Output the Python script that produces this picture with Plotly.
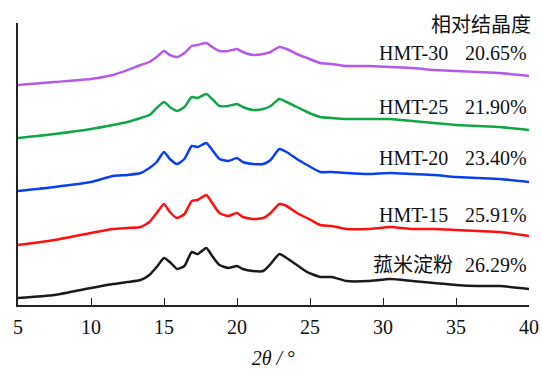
import plotly.graph_objects as go

two_theta = [5, 7.5, 10, 11.5, 12.5, 13.4, 14.0, 14.5, 15.0, 15.4,
             15.9, 16.4, 16.9, 17.3, 17.9, 18.3, 18.8, 19.4, 20.0, 20.4,
             21.1, 21.8, 22.3, 22.9, 23.4, 24.1, 24.8, 25.7, 26.5, 27.5,
             29, 30.5, 32, 33.5, 35, 36.5, 38, 40]

native = [7, 10, 17, 21, 23, 25, 30, 38, 47, 43,
          36, 39, 53, 51, 57, 49, 40, 37, 39, 36,
          34, 34, 41, 51, 47, 40, 33, 28, 28, 24,
          24, 26, 24, 22, 20, 19, 19, 16]
hmt15 = [60, 65, 72, 76, 77, 78, 83, 92, 101, 93,
         87, 91, 104, 105, 110, 102, 92, 89, 92, 88,
         86, 87, 92, 101, 99, 92, 87, 80, 79, 76,
         76, 78, 76, 76, 75, 74, 73, 69]
hmt20 = [114, 118, 123, 129, 130, 132, 137, 143, 153, 146,
         141, 146, 159, 158, 162, 155, 146, 144, 147, 143,
         141, 141, 145, 156, 153, 146, 140, 133, 133, 132,
         131, 132, 131, 130, 128, 127, 126, 123]
hmt25 = [167, 171, 176, 180, 183, 187, 190, 197, 203, 198,
         194, 198, 208, 207, 211, 206, 199, 199, 201, 198,
         195, 196, 199, 206, 203, 198, 193, 188, 187, 186,
         186, 186, 184, 182, 180, 179, 178, 175]
hmt30 = [220, 223, 226, 230, 235, 240, 243, 248, 254, 250,
         248, 252, 259, 260, 262, 258, 254, 254, 256, 253,
         250, 251, 253, 258, 256, 251, 247, 242, 241, 239,
         239, 238, 237, 235, 234, 233, 232, 229]

series_names = ["菰米淀粉", "HMT-15", "HMT-20", "HMT-25", "HMT-30"]
crystallinity = ["26.29%", "25.91%", "23.40%", "21.90%", "20.65%"]
series_values = [native, hmt15, hmt20, hmt25, hmt30]
colors = ["#1a1a1a", "#ff1010", "#0a3ff0", "#11a645", "#b55ae8"]
label_y = [40, 90, 147, 198, 252]

x_ticks = [5, 10, 15, 20, 25, 30, 35, 40]

serif = "Liberation Serif, Tinos, Times New Roman, DejaVu Serif, Noto Sans CJK SC, serif"

fig = go.Figure()
for name, vals, col in zip(series_names, series_values, colors):
    fig.add_trace(go.Scatter(x=two_theta, y=vals, mode="lines", name=name,
                             line=dict(color=col, width=2.5, shape="spline", smoothing=0.5),
                             showlegend=False))

annotations = []
for name, pct, ly in zip(series_names, crystallinity, label_y):
    annotations.append(dict(text=name, xref="paper", yref="y", x=0.855 if name == "菰米淀粉" else 0.846,
                            y=ly, xanchor="right", yanchor="middle", showarrow=False,
                            font=dict(family=serif, size=20, color="#111")))
    annotations.append(dict(text=pct, xref="paper", yref="y", x=1.0, y=ly,
                            xanchor="right", yanchor="middle", showarrow=False,
                            font=dict(family=serif, size=20, color="#111")))
annotations.append(dict(text="相对结晶度", xref="paper", yref="y", x=1.008, y=280,
                        xanchor="right", yanchor="middle", showarrow=False,
                        font=dict(family=serif, size=20, color="#111")))

fig.update_layout(
    width=542, height=369,
    margin=dict(l=18, r=13, t=23, b=64),
    paper_bgcolor="white", plot_bgcolor="white",
    annotations=annotations,
    xaxis=dict(range=[5, 40], tickvals=x_ticks, ticktext=[str(t) for t in x_ticks],
               automargin=False,
               ticks="inside", ticklen=7, tickwidth=1, tickcolor="#222",
               ticklabelstandoff=3,
               showline=True, linecolor="#222", linewidth=1.5, showgrid=False, zeroline=False,
               tickfont=dict(family=serif, size=20, color="#111"),
               title=dict(text="<i>2θ / </i>°", font=dict(family=serif, size=20, color="#111"),
                          standoff=30)),
    yaxis=dict(range=[0, 282], tickvals=[282], showticklabels=False, automargin=False,
               ticks="inside", ticklen=7, tickwidth=1.5, tickcolor="#333",
               showline=True, linecolor="#222", linewidth=1.5, showgrid=False, zeroline=False),
)

fig.write_html("out.html")
